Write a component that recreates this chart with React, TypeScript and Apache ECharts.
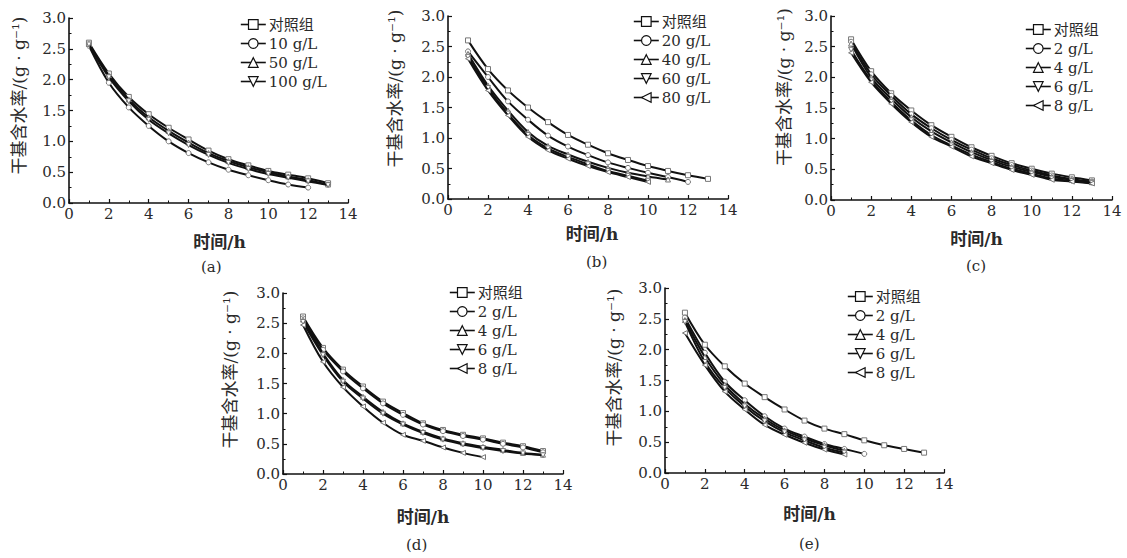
import React, { useEffect, useRef } from 'react';
import * as echarts from 'echarts';

const FONT = "'DejaVu Serif', 'Noto Sans CJK SC', serif";
const TEXT_COLOR = '#2a2a2a';

const xTitle = '时间/h';
const yTitle = '干基含水率/(g · g⁻¹)';
const panelLabels = ['(a)', '(b)', '(c)', '(d)', '(e)'];
const xTicks = { min: 0, max: 14, interval: 2 };
const yTicks = { min: 0, max: 3, interval: 0.5 };

// Panel (a)
const namesA = ['对照组', '10 g/L', '50 g/L', '100 g/L'];
const a_control = [2.60, 2.10, 1.72, 1.44, 1.22, 1.03, 0.85, 0.71, 0.61, 0.52, 0.46, 0.40, 0.32];
const a_10 = [2.55, 1.95, 1.55, 1.25, 1.00, 0.81, 0.66, 0.54, 0.45, 0.37, 0.30, 0.25];
const a_50 = [2.58, 2.07, 1.68, 1.39, 1.17, 0.98, 0.81, 0.68, 0.58, 0.50, 0.43, 0.37, 0.30];
const a_100 = [2.57, 2.04, 1.65, 1.35, 1.13, 0.94, 0.78, 0.65, 0.55, 0.47, 0.41, 0.35, 0.29];

// Panel (b)
const namesB = ['对照组', '20 g/L', '40 g/L', '60 g/L', '80 g/L'];
const b_control = [2.60, 2.13, 1.78, 1.50, 1.26, 1.05, 0.89, 0.75, 0.64, 0.54, 0.46, 0.39, 0.33];
const b_20 = [2.42, 2.00, 1.60, 1.30, 1.04, 0.86, 0.72, 0.60, 0.51, 0.43, 0.36, 0.28];
const b_40 = [2.38, 1.86, 1.45, 1.10, 0.87, 0.73, 0.61, 0.51, 0.43, 0.37, 0.32];
const b_60 = [2.33, 1.82, 1.40, 1.05, 0.83, 0.69, 0.57, 0.46, 0.38, 0.30];
const b_80 = [2.30, 1.78, 1.37, 1.02, 0.80, 0.66, 0.54, 0.44, 0.36, 0.28];

// Panel (c)
const namesC = ['对照组', '2 g/L', '4 g/L', '6 g/L', '8 g/L'];
const c_control = [2.62, 2.10, 1.74, 1.46, 1.22, 1.03, 0.86, 0.72, 0.60, 0.51, 0.43, 0.37, 0.32];
const c_2 = [2.58, 2.05, 1.70, 1.40, 1.17, 0.98, 0.82, 0.68, 0.57, 0.48, 0.40, 0.34, 0.30];
const c_4 = [2.55, 2.00, 1.65, 1.35, 1.12, 0.94, 0.78, 0.65, 0.54, 0.46, 0.38, 0.33, 0.29];
const c_6 = [2.45, 1.95, 1.60, 1.30, 1.06, 0.89, 0.74, 0.62, 0.51, 0.43, 0.35, 0.31, 0.28];
const c_8 = [2.40, 1.92, 1.57, 1.27, 1.03, 0.87, 0.71, 0.60, 0.49, 0.41, 0.33, 0.30, 0.27];

// Panel (d)
const namesD = ['对照组', '2 g/L', '4 g/L', '6 g/L', '8 g/L'];
const d_control = [2.61, 2.09, 1.73, 1.45, 1.20, 1.01, 0.84, 0.73, 0.65, 0.59, 0.52, 0.46, 0.38];
const d_2 = [2.58, 2.06, 1.70, 1.42, 1.17, 0.98, 0.82, 0.71, 0.63, 0.57, 0.50, 0.44, 0.36];
const d_4 = [2.56, 2.00, 1.56, 1.28, 1.03, 0.84, 0.70, 0.59, 0.51, 0.45, 0.40, 0.35, 0.32];
const d_6 = [2.52, 1.97, 1.53, 1.25, 1.00, 0.82, 0.68, 0.57, 0.49, 0.43, 0.38, 0.34, 0.31];
const d_8 = [2.47, 1.86, 1.44, 1.12, 0.85, 0.65, 0.55, 0.44, 0.35, 0.28];

// Panel (e)
const namesE = ['对照组', '2 g/L', '4 g/L', '6 g/L', '8 g/L'];
const e_control = [2.60, 2.08, 1.73, 1.45, 1.23, 1.03, 0.85, 0.72, 0.63, 0.53, 0.45, 0.39, 0.33];
const e_2 = [2.52, 1.95, 1.48, 1.18, 0.92, 0.72, 0.59, 0.47, 0.39, 0.31];
const e_4 = [2.48, 1.88, 1.43, 1.12, 0.88, 0.69, 0.56, 0.45, 0.36];
const e_6 = [2.45, 1.80, 1.38, 1.08, 0.84, 0.66, 0.53, 0.41, 0.33];
const e_8 = [2.27, 1.75, 1.32, 1.03, 0.78, 0.62, 0.49, 0.38, 0.30];

const panels = [
  { names: namesA, series: [a_control, a_10, a_50, a_100] },
  { names: namesB, series: [b_control, b_20, b_40, b_60, b_80] },
  { names: namesC, series: [c_control, c_2, c_4, c_6, c_8] },
  { names: namesD, series: [d_control, d_2, d_4, d_6, d_8] },
  { names: namesE, series: [e_control, e_2, e_4, e_6, e_8] },
];

const SYMBOLS = [
  'rect',
  'circle',
  'path://M5,0L10,10L0,10Z',
  'path://M0,0L10,0L5,10Z',
  'path://M10,0L10,10L0,5Z',
];

// layout (pixels)
const grids = [
  { left: 69, top: 18, width: 279, height: 185 },
  { left: 448, top: 16, width: 280, height: 183 },
  { left: 831, top: 16, width: 281, height: 184 },
  { left: 283, top: 293, width: 280, height: 181 },
  { left: 665, top: 288, width: 279, height: 185 },
];
const yNameGap = [42, 45, 39, 45, 43];
const yNameShiftUp = [15, 19, 21, 14, 13];
const xNameGap = [30, 26, 30, 34, 32];
const xNameShiftRight = [11, 4, 5, 0, 5];
const legendPos = [
  { left: 240, top: 17 },
  { left: 633, top: 14 },
  { left: 1025, top: 22 },
  { left: 449, top: 285 },
  { left: 847, top: 289 },
];
const labelPos = [
  [212, 268],
  [597, 263],
  [977, 267],
  [417, 546],
  [810, 545],
];

function buildOption() {
  const grid: any[] = [];
  const xAxis: any[] = [];
  const yAxis: any[] = [];
  const legend: any[] = [];
  const series: any[] = [];
  const graphic: any[] = [];

  panels.forEach((p, i) => {
    grid.push({ ...grids[i], containLabel: false });
    const axisCommon = {
      gridIndex: i,
      axisLine: { show: true, onZero: false, lineStyle: { color: '#111', width: 1.6 } },
      axisTick: { show: true, inside: true, length: 4, lineStyle: { color: '#111', width: 1.2 } },
      minorTick: { show: true, splitNumber: 2, length: 2.5, lineStyle: { color: '#111', width: 1 } },
      splitLine: { show: false },
      axisLabel: { color: TEXT_COLOR, fontFamily: FONT, fontSize: 15, margin: 3 },
    };
    xAxis.push({
      ...axisCommon,
      type: 'value',
      min: xTicks.min,
      max: xTicks.max,
      interval: xTicks.interval,
      name: xTitle,
      nameLocation: 'middle',
      nameGap: xNameGap[i],
      nameTextStyle: {
        color: TEXT_COLOR,
        fontFamily: FONT,
        fontSize: 17,
        fontWeight: 'bold',
        padding: [0, 0, 0, xNameShiftRight[i] * 2],
      },
    });
    yAxis.push({
      ...axisCommon,
      type: 'value',
      min: yTicks.min,
      max: yTicks.max,
      interval: yTicks.interval,
      axisLabel: { ...axisCommon.axisLabel, formatter: (v: number) => v.toFixed(1) },
      name: yTitle,
      nameLocation: 'middle',
      nameRotate: 90,
      nameGap: yNameGap[i],
      nameTextStyle: {
        color: TEXT_COLOR,
        fontFamily: FONT,
        fontSize: 17,
        padding: [0, 0, 0, yNameShiftUp[i] * 2],
      },
    });
    legend.push({
      left: legendPos[i].left,
      top: legendPos[i].top,
      orient: 'vertical',
      align: 'left',
      itemWidth: 25,
      itemHeight: 12,
      itemGap: 4,
      padding: 0,
      data: p.names,
      itemStyle: { color: '#fff', borderColor: '#111', borderWidth: 1.2 },
      lineStyle: { color: '#111', width: 1.6 },
      textStyle: { color: TEXT_COLOR, fontFamily: FONT, fontSize: 15, lineHeight: 15, padding: [0, 0, 0, -2] },
      selectedMode: false,
    });
    p.series.forEach((vals, k) => {
      series.push({
        type: 'line',
        name: p.names[k],
        xAxisIndex: i,
        yAxisIndex: i,
        data: vals.map((v, j) => [j + 1, v]),
        smooth: 0.35,
        symbol: SYMBOLS[k],
        symbolSize: 5,
        showSymbol: true,
        lineStyle: { color: '#111', width: 2 },
        itemStyle: { color: '#fff', borderColor: '#777', borderWidth: 1 },
        z: 2 + k,
      });
    });
    graphic.push({
      type: 'text',
      left: labelPos[i][0] - 11,
      top: labelPos[i][1] - 9,
      style: {
        text: panelLabels[i],
        fill: TEXT_COLOR,
        font: `15px ${FONT}`,
      },
    });
  });

  return {
    animation: false,
    backgroundColor: '#fff',
    grid,
    xAxis,
    yAxis,
    legend,
    series,
    graphic,
  };
}

export default function App() {
  const ref = useRef<HTMLDivElement>(null);
  useEffect(() => {
    if (!ref.current) return;
    const chart = echarts.init(ref.current, undefined, { renderer: 'svg' });
    chart.setOption(buildOption() as any);
    return () => chart.dispose();
  }, []);
  return (
    <div
      ref={ref}
      style={{ position: 'absolute', left: 0, top: 0, width: 1127, height: 558, background: '#fff' }}
    />
  );
}
